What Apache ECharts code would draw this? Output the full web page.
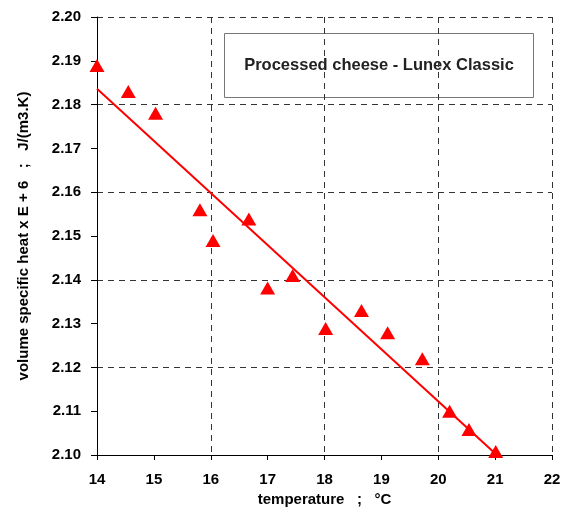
<!DOCTYPE html>
<html>
<head>
<meta charset="utf-8">
<script src="https://cdn.jsdelivr.net/npm/echarts@6/dist/echarts.min.js"></script>
<style>
html,body{margin:0;padding:0;background:#fff;}
#chart{width:565px;height:508px;}
</style>
</head>
<body>
<div id="chart"></div>
<script>
// measured points (temperature °C, volume specific heat x E+6)
var tempData = [14.0, 14.55, 15.03, 15.81, 16.04, 16.67, 17.0, 17.44, 18.02, 18.65, 19.11, 19.72, 20.2, 20.54, 21.01];
var heatData = [2.1889, 2.1830, 2.1780, 2.1560, 2.1490, 2.1539, 2.1381, 2.1410, 2.1289, 2.1330, 2.1279, 2.1220, 2.1100, 2.1058, 2.1008];
// regression line ends
var fitX = [14.0, 21.03];
var fitY = [2.1836, 2.1000];
var chartTitle = 'Processed cheese - Lunex Classic';

var myChart = echarts.init(document.getElementById('chart'));
var font = 'Liberation Sans, Arial, sans-serif';

var pts = tempData.map(function (t, i) { return [t, heatData[i]]; });
var line = fitX.map(function (t, i) { return [t, fitY[i]]; });

var dashed = {show: true, lineStyle: {color: '#333', width: 1, type: [6, 5]}};

var option = {
    animation: false,
    backgroundColor: '#fff',
    grid: {left: 97, right: 13, top: 17, bottom: 53, containLabel: false, outerBoundsMode: 'none'},
    xAxis: [
        {
            type: 'value', min: 14, max: 22, interval: 1,
            name: 'temperature   ;   °C',
            nameLocation: 'middle', nameGap: 37,
            nameTextStyle: {fontFamily: font, fontWeight: 'bold', fontSize: 15, color: '#000'},
            axisLine: {lineStyle: {color: '#000', width: 1}},
            axisTick: {show: true, length: 5, lineStyle: {color: '#000'}},
            axisLabel: {fontFamily: font, fontWeight: 'bold', fontSize: 15, color: '#000', margin: 17},
            splitLine: {show: false}
        },
        {
            type: 'value', min: 14, max: 22, interval: 2,
            axisLine: {show: false}, axisTick: {show: false}, axisLabel: {show: false},
            splitLine: dashed
        }
    ],
    yAxis: [
        {
            type: 'value', min: 2.10, max: 2.20, interval: 0.01,
            name: 'volume specific heat x E + 6   ;   J/(m3.K)',
            nameLocation: 'middle', nameGap: 66,
            nameTextStyle: {fontFamily: font, fontWeight: 'bold', fontSize: 15, color: '#000'},
            axisLine: {show: true, lineStyle: {color: '#000', width: 1}},
            axisTick: {show: true, length: 6, lineStyle: {color: '#000'}},
            axisLabel: {fontFamily: font, fontWeight: 'bold', fontSize: 15, color: '#000', margin: 16,
                formatter: function (v) { return v.toFixed(2); }},
            splitLine: {show: false}
        },
        {
            type: 'value', min: 2.10, max: 2.20, interval: 0.02,
            position: 'left',
            axisLine: {show: false}, axisTick: {show: false}, axisLabel: {show: false},
            splitLine: dashed
        }
    ],
    graphic: [
        {
            type: 'group', left: 224, top: 33,
            children: [
                {type: 'rect', shape: {x: 0, y: 0, width: 309, height: 64},
                    style: {fill: '#fff', stroke: '#777', lineWidth: 1}},
                {type: 'text', x: 154.5, y: 32,
                    style: {text: chartTitle, fill: '#222', font: 'bold 16.5px ' + font,
                        textAlign: 'center', textVerticalAlign: 'middle'}}
            ]
        }
    ],
    series: [
        {
            name: 'fit', type: 'line', data: line,
            symbol: 'none', silent: true,
            lineStyle: {color: '#ff0000', width: 2}
        },
        {
            name: 'data', type: 'scatter', data: pts,
            symbol: 'triangle', symbolSize: [15, 13],
            itemStyle: {color: '#ff0000', opacity: 1}
        }
    ]
};

myChart.setOption(option);
</script>
</body>
</html>
